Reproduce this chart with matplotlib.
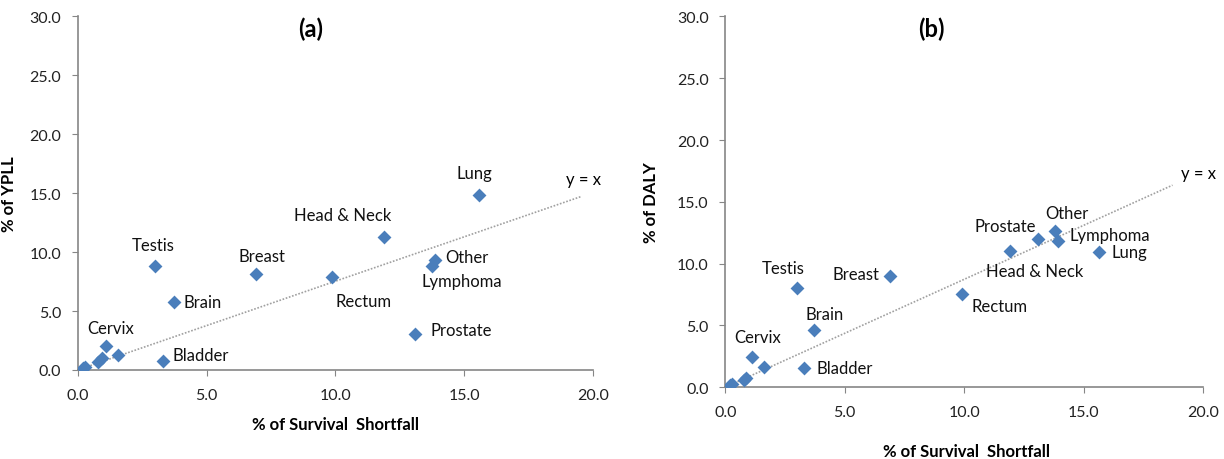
import matplotlib
matplotlib.use("Agg")
import matplotlib.pyplot as plt
from matplotlib.ticker import FormatStrFormatter

plt.rcParams['font.family'] = ['Lato', 'DejaVu Sans']

# panel (a): % of survival shortfall vs % of YPLL
sites_a = ["Lung", "Head & Neck", "Testis", "Breast", "Rectum", "Other",
           "Lymphoma", "Brain", "Prostate", "Cervix", "Bladder",
           "", "", "", "", ""]
x_a = [15.57, 11.89, 3.01, 6.92, 9.86, 13.86, 13.75, 3.72, 13.1, 1.1, 3.3,
       1.58, 0.95, 0.8, 0.3, 0.2]
y_a = [14.87, 11.3, 8.8, 8.17, 7.86, 9.36, 8.8, 5.8, 3.05, 2.06, 0.79,
       1.25, 1.0, 0.7, 0.25, 0.2]
line_a = ([0.0, 19.55], [0.0, 14.73])

# panel (b): % of survival shortfall vs % of DALY
sites_b = ["Lung", "Other", "Lymphoma", "Prostate", "Head & Neck", "Rectum",
           "Breast", "Testis", "Brain", "Cervix", "Bladder",
           "", "", "", "", ""]
x_b = [15.65, 13.81, 13.92, 13.11, 11.92, 9.92, 6.88, 3.0, 3.7, 1.1, 3.28,
       1.63, 0.87, 0.8, 0.28, 0.2]
y_b = [10.91, 12.66, 11.8, 11.99, 11.04, 7.52, 8.97, 8.05, 4.63, 2.48, 1.56,
       1.67, 0.75, 0.6, 0.27, 0.15]
line_b = ([0.0, 18.72], [0.0, 16.35])

# label offsets in points (dx, dy, ha)
offs_a = {"Lung": (-3.6, 15.6, "center"), "Head & Neck": (-30, 15.6, "center"),
          "Testis": (-1.4, 15.6, "center"), "Breast": (4.3, 12.5, "center"),
          "Rectum": (23, -17.3, "center"), "Other": (7.7, 1.7, "left"),
          "Lymphoma": (21.4, -10.8, "center"), "Brain": (7.2, 0, "left"),
          "Prostate": (11.3, 3.1, "left"), "Cervix": (3.6, 12.5, "center"),
          "Bladder": (7, 4.1, "left")}
offs_b = {"Lung": (9.1, 0, "left"), "Other": (8.4, 12.5, "center"),
          "Lymphoma": (8.2, 4.6, "left"), "Prostate": (-24.2, 9.1, "center"),
          "Head & Neck": (18, -14.9, "center"), "Rectum": (26.6, -8.6, "center"),
          "Breast": (-7.2, 1.4, "right"), "Testis": (-10.3, 13.9, "center"),
          "Brain": (7.7, 11.8, "center"), "Cervix": (4.3, 14.4, "center"),
          "Bladder": (9.1, 0, "left")}

blue = "#4a7ebb"
gray = "#868686"


def draw_panel(ax, xs, ys, names, offs, line, title, ylabel, yx_pos, ylab_x):
    ax.plot(line[0], line[1], linestyle=(0, (1, 1)), color="#a0a0a0", lw=1.2, zorder=1)
    ax.scatter(xs, ys, marker="D", s=50, color=blue, zorder=3, linewidths=0)
    for x, y, n in zip(xs, ys, names):
        if not n:
            continue
        dx, dy, ha = offs[n]
        ax.annotate(n, (x, y), xytext=(dx, dy), textcoords="offset points",
                    ha=ha, va="center", fontsize=12, color="#111111")
    ax.text(yx_pos[0], yx_pos[1], "y = x", fontsize=12, ha="center", va="center")
    ax.set_xlim(0, 20)
    ax.set_ylim(0, 30)
    ax.set_xticks([0, 5, 10, 15, 20])
    ax.set_yticks([0, 5, 10, 15, 20, 25, 30])
    ax.xaxis.set_major_formatter(FormatStrFormatter("%.1f"))
    ax.yaxis.set_major_formatter(FormatStrFormatter("%.1f"))
    for s in ["top", "right"]:
        ax.spines[s].set_visible(False)
    for s in ["left", "bottom"]:
        ax.spines[s].set_color(gray)
        ax.spines[s].set_linewidth(1.2)
    ax.tick_params(direction="out", length=4, color=gray, labelsize=11.5,
                   labelcolor="#222222")
    ax.tick_params(axis="x", pad=9)
    ax.tick_params(axis="y", pad=8)
    ax.set_ylabel(ylabel, fontsize=12, fontweight="bold")
    ax.yaxis.set_label_coords(ylab_x, 0.5)
    ax.text(title[1], title[2], title[0], transform=ax.transAxes, fontsize=17,
            fontweight="bold", ha="center", va="center")


fig = plt.figure(figsize=(12.24, 4.6), dpi=100)
ax1 = fig.add_axes([0.0635, 0.1935, 0.421, 0.7685])
ax2 = fig.add_axes([0.5926, 0.156, 0.3903, 0.806])

draw_panel(ax1, x_a, y_a, sites_a, offs_a, line_a, ("(a)", 0.452, 0.967),
           "% of YPLL", (19.64, 16.2), -0.118)
draw_panel(ax2, x_b, y_b, sites_b, offs_b, line_b, ("(b)", 0.432, 0.968),
           "% of DALY", (19.81, 17.32), -0.139)

fig.text(0.2737, 0.0761, "% of Survival  Shortfall", fontsize=12,
         fontweight="bold", ha="center", va="center")
fig.text(0.7895, 0.018, "% of Survival  Shortfall", fontsize=12,
         fontweight="bold", ha="center", va="center")

fig.savefig("out.png", dpi=100)
